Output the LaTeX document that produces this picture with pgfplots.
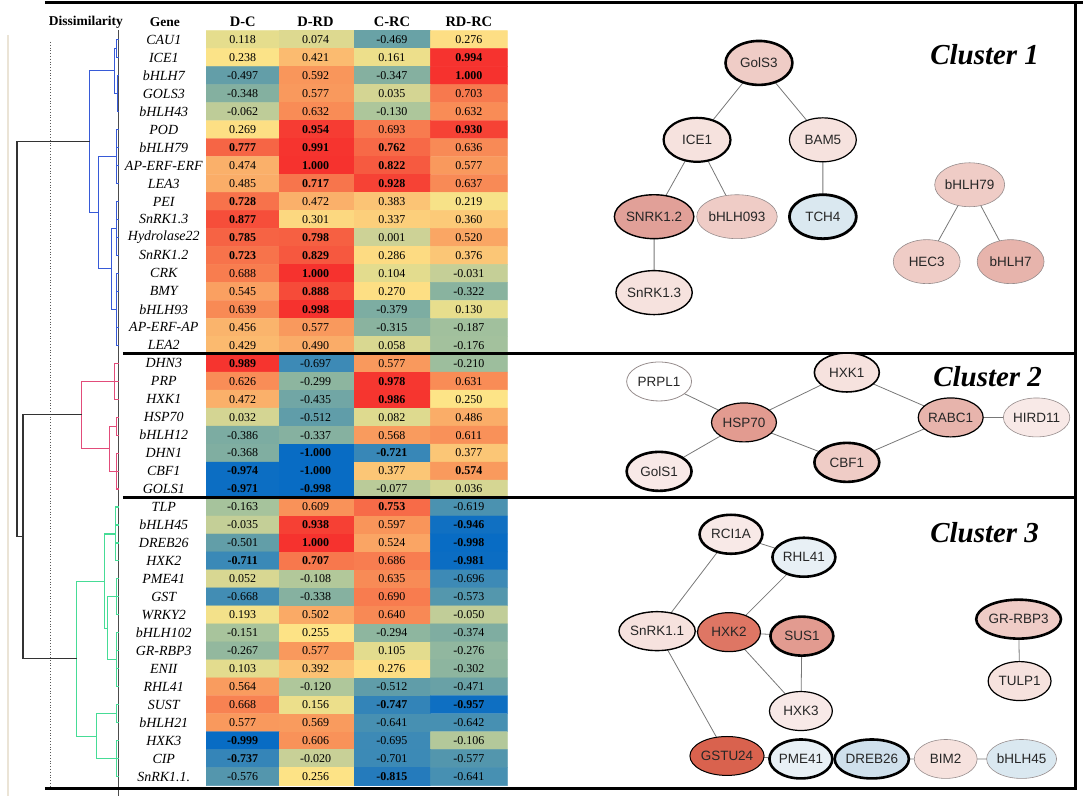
\documentclass[border=0pt]{standalone}
\usepackage{pgfplots}
\pgfplotsset{compat=1.18}
\usepackage{pgfplotstable}
\usepackage{fontspec}
\setmainfont{Liberation Serif}
\newfontfamily\netfont{Liberation Sans}
\usetikzlibrary{shapes.geometric}

\definecolor{dblue}{RGB}{55,90,215}
\definecolor{dpink}{RGB}{226,76,122}
\definecolor{dgreen}{RGB}{70,220,150}
\definecolor{edgegray}{RGB}{120,120,120}
\definecolor{bgray}{RGB}{150,140,140}
\definecolor{pkA}{RGB}{246,226,222}
\definecolor{pkB}{RGB}{239,204,198}
\definecolor{pkC}{RGB}{225,160,152}
\definecolor{pkD}{RGB}{231,180,172}
\definecolor{pkE}{RGB}{226,155,144}
\definecolor{pkF}{RGB}{222,118,100}
\definecolor{pkG}{RGB}{217,98,78}
\definecolor{pkH}{RGB}{248,233,231}
\definecolor{blA}{RGB}{218,232,240}
\definecolor{blB}{RGB}{232,240,245}
\definecolor{blC}{RGB}{207,224,236}
\definecolor{beige}{RGB}{235,228,214}

% heatmap: x (pixel centre), r (row), v (value), b (bold)
\pgfplotstableread[row sep=\\]{
x r v b\\
243 0 0.118 0\\ 316 0 0.074 0\\ 392.5 0 -0.469 0\\ 469.5 0 0.276 0\\
243 1 0.238 0\\ 316 1 0.421 0\\ 392.5 1 0.161 0\\ 469.5 1 0.994 1\\
243 2 -0.497 0\\ 316 2 0.592 0\\ 392.5 2 -0.347 0\\ 469.5 2 1.000 1\\
243 3 -0.348 0\\ 316 3 0.577 0\\ 392.5 3 0.035 0\\ 469.5 3 0.703 0\\
243 4 -0.062 0\\ 316 4 0.632 0\\ 392.5 4 -0.130 0\\ 469.5 4 0.632 0\\
243 5 0.269 0\\ 316 5 0.954 1\\ 392.5 5 0.693 0\\ 469.5 5 0.930 1\\
243 6 0.777 1\\ 316 6 0.991 1\\ 392.5 6 0.762 1\\ 469.5 6 0.636 0\\
243 7 0.474 0\\ 316 7 1.000 1\\ 392.5 7 0.822 1\\ 469.5 7 0.577 0\\
243 8 0.485 0\\ 316 8 0.717 1\\ 392.5 8 0.928 1\\ 469.5 8 0.637 0\\
243 9 0.728 1\\ 316 9 0.472 0\\ 392.5 9 0.383 0\\ 469.5 9 0.219 0\\
243 10 0.877 1\\ 316 10 0.301 0\\ 392.5 10 0.337 0\\ 469.5 10 0.360 0\\
243 11 0.785 1\\ 316 11 0.798 1\\ 392.5 11 0.001 0\\ 469.5 11 0.520 0\\
243 12 0.723 1\\ 316 12 0.829 1\\ 392.5 12 0.286 0\\ 469.5 12 0.376 0\\
243 13 0.688 0\\ 316 13 1.000 1\\ 392.5 13 0.104 0\\ 469.5 13 -0.031 0\\
243 14 0.545 0\\ 316 14 0.888 1\\ 392.5 14 0.270 0\\ 469.5 14 -0.322 0\\
243 15 0.639 0\\ 316 15 0.998 1\\ 392.5 15 -0.379 0\\ 469.5 15 0.130 0\\
243 16 0.456 0\\ 316 16 0.577 0\\ 392.5 16 -0.315 0\\ 469.5 16 -0.187 0\\
243 17 0.429 0\\ 316 17 0.490 0\\ 392.5 17 0.058 0\\ 469.5 17 -0.176 0\\
243 18 0.989 1\\ 316 18 -0.697 0\\ 392.5 18 0.577 0\\ 469.5 18 -0.210 0\\
243 19 0.626 0\\ 316 19 -0.299 0\\ 392.5 19 0.978 1\\ 469.5 19 0.631 0\\
243 20 0.472 0\\ 316 20 -0.435 0\\ 392.5 20 0.986 1\\ 469.5 20 0.250 0\\
243 21 0.032 0\\ 316 21 -0.512 0\\ 392.5 21 0.082 0\\ 469.5 21 0.486 0\\
243 22 -0.386 0\\ 316 22 -0.337 0\\ 392.5 22 0.568 0\\ 469.5 22 0.611 0\\
243 23 -0.368 0\\ 316 23 -1.000 1\\ 392.5 23 -0.721 1\\ 469.5 23 0.377 0\\
243 24 -0.974 1\\ 316 24 -1.000 1\\ 392.5 24 0.377 0\\ 469.5 24 0.574 1\\
243 25 -0.971 1\\ 316 25 -0.998 1\\ 392.5 25 -0.077 0\\ 469.5 25 0.036 0\\
243 26 -0.163 0\\ 316 26 0.609 0\\ 392.5 26 0.753 1\\ 469.5 26 -0.619 0\\
243 27 -0.035 0\\ 316 27 0.938 1\\ 392.5 27 0.597 0\\ 469.5 27 -0.946 1\\
243 28 -0.501 0\\ 316 28 1.000 1\\ 392.5 28 0.524 0\\ 469.5 28 -0.998 1\\
243 29 -0.711 1\\ 316 29 0.707 1\\ 392.5 29 0.686 0\\ 469.5 29 -0.981 1\\
243 30 0.052 0\\ 316 30 -0.108 0\\ 392.5 30 0.635 0\\ 469.5 30 -0.696 0\\
243 31 -0.668 0\\ 316 31 -0.338 0\\ 392.5 31 0.690 0\\ 469.5 31 -0.573 0\\
243 32 0.193 0\\ 316 32 0.502 0\\ 392.5 32 0.640 0\\ 469.5 32 -0.050 0\\
243 33 -0.151 0\\ 316 33 0.255 0\\ 392.5 33 -0.294 0\\ 469.5 33 -0.374 0\\
243 34 -0.267 0\\ 316 34 0.577 0\\ 392.5 34 0.105 0\\ 469.5 34 -0.276 0\\
243 35 0.103 0\\ 316 35 0.392 0\\ 392.5 35 0.276 0\\ 469.5 35 -0.302 0\\
243 36 0.564 0\\ 316 36 -0.120 0\\ 392.5 36 -0.512 0\\ 469.5 36 -0.471 0\\
243 37 0.668 0\\ 316 37 0.156 0\\ 392.5 37 -0.747 1\\ 469.5 37 -0.957 1\\
243 38 0.577 0\\ 316 38 0.569 0\\ 392.5 38 -0.641 0\\ 469.5 38 -0.642 0\\
243 39 -0.999 1\\ 316 39 0.606 0\\ 392.5 39 -0.695 0\\ 469.5 39 -0.106 0\\
243 40 -0.737 1\\ 316 40 -0.020 0\\ 392.5 40 -0.701 0\\ 469.5 40 -0.577 0\\
243 41 -0.576 0\\ 316 41 0.256 0\\ 392.5 41 -0.815 1\\ 469.5 41 -0.641 0\\
}\heat

\pgfplotstableread[row sep=\\]{
r name\\
0 CAU1\\ 1 ICE1\\ 2 bHLH7\\ 3 GOLS3\\ 4 bHLH43\\ 5 POD\\ 6 bHLH79\\ 7 AP-ERF-ERF\\
8 LEA3\\ 9 PEI\\ 10 SnRK1.3\\ 11 Hydrolase22\\ 12 SnRK1.2\\ 13 CRK\\ 14 BMY\\
15 bHLH93\\ 16 AP-ERF-AP\\ 17 LEA2\\ 18 DHN3\\ 19 PRP\\ 20 HXK1\\ 21 HSP70\\
22 bHLH12\\ 23 DHN1\\ 24 CBF1\\ 25 GOLS1\\ 26 TLP\\ 27 bHLH45\\ 28 DREB26\\
29 HXK2\\ 30 PME41\\ 31 GST\\ 32 WRKY2\\ 33 bHLH102\\ 34 GR-RBP3\\ 35 ENII\\
36 RHL41\\ 37 SUST\\ 38 bHLH21\\ 39 HXK3\\ 40 CIP\\ 41 SnRK1.1.\\
}\genes

% network node: x, y, label, fill, border, border width, width, height
\newcommand\netnode[8]{%
  \addplot[draw=none, point meta=explicit symbolic, nodes near coords,
    nodes near coords align={center},
    every node near coord/.append style={ellipse, draw=#5, fill=#4, line width=#6pt,
      minimum width=#7pt, minimum height=#8pt, inner sep=0pt, text=black!85,
      font=\netfont\fontsize{13.5}{14}\selectfont}]
    coordinates {(#1,#2) [#3]};}

\begin{document}
\begin{tikzpicture}
\begin{axis}[
  scale only axis, width=1084pt, height=797pt,
  xmin=0, xmax=1084, ymin=0, ymax=797, y dir=reverse,
  hide axis, clip=false,
  colormap={heat}{rgb255(0cm)=(8,108,196) rgb255(1.5cm)=(30,118,190) rgb255(3cm)=(60,138,182) rgb255(5cm)=(98,158,168) rgb255(6.5cm)=(132,176,160) rgb255(8.5cm)=(168,196,156) rgb255(10cm)=(205,210,150) rgb255(11cm)=(226,220,142) rgb255(12.5cm)=(253,228,135) rgb255(14cm)=(251,192,115) rgb255(16cm)=(249,148,90) rgb255(18cm)=(246,95,66) rgb255(20cm)=(246,50,46)},
  point meta min=-1, point meta max=1,
]
\path (axis cs:0,0) rectangle (axis cs:1084,797);

% heatmap
\addplot[matrix plot*, mesh/cols=4, point meta=explicit]
  table[x=x, y expr={39.7+18*\thisrow{r}}, meta=v] {\heat};
\addplot[draw=none, point meta=explicit symbolic,
  restrict expr to domain={\thisrow{b}}{-0.5:0.5},
  nodes near coords, nodes near coords align={center},
  every node near coord/.append style={font=\fontsize{12}{12}\selectfont, inner sep=0pt, text=black}]
  table[x=x, y expr={39.7+18*\thisrow{r}}, meta=v] {\heat};
\addplot[draw=none, point meta=explicit symbolic,
  restrict expr to domain={\thisrow{b}}{0.5:1.5},
  nodes near coords, nodes near coords align={center},
  every node near coord/.append style={font=\bfseries\fontsize{12}{12}\selectfont, inner sep=0pt, text=black}]
  table[x=x, y expr={39.7+18*\thisrow{r}}, meta=v] {\heat};

% gene names
\addplot[draw=none, point meta=explicit symbolic, nodes near coords, nodes near coords align={center},
  every node near coord/.append style={font=\itshape\fontsize{14}{14}\selectfont, inner sep=0pt, text=black}]
  table[x expr=164, y expr={39.7+18*\thisrow{r}}, meta=name] {\genes};

% decorations
\draw[beige, line width=1.5pt] (axis cs:8,35) -- (axis cs:8,797);
\draw[black!65, dotted, line width=0.8pt] (axis cs:50,42) -- (axis cs:50,790);
\draw[black!70, line width=0.8pt] (axis cs:119,30) -- (axis cs:119,797);

% dendrogram
\addplot[dblue, line width=1.1pt, unbounded coords=jump] coordinates {
 (115,71)(90,71)(90,213)(99,213) (nan,nan)
 (117,48.7)(115,48.7)(115,93.7)(118,93.7) (nan,nan)
 (119,39.7)(117,39.7)(117,57.7)(119,57.7) (nan,nan)
 (119,75.7)(118,75.7)(118,111.7)(119,111.7) (nan,nan)
 (117,156.7)(99,156.7)(99,269.2)(112,269.2) (nan,nan)
 (119,129.7)(117,129.7)(117,183.7)(119,183.7) (nan,nan)
 (117,228.7)(112,228.7)(112,309.7)(117,309.7) (nan,nan)
 (119,201.7)(117,201.7)(117,255.7)(119,255.7) (nan,nan)
 (119,273.7)(117,273.7)(117,345.7)(119,345.7) (nan,nan)
 (117,147.7)(119,147.7) (nan,nan) (117,165.7)(119,165.7) (nan,nan)
 (117,219.7)(119,219.7) (nan,nan) (117,237.7)(119,237.7) (nan,nan)
 (117,291.7)(119,291.7) (nan,nan) (117,327.7)(119,327.7)
};
\addplot[dpink, line width=1.1pt, unbounded coords=jump] coordinates {
 (115,381.7)(82,381.7)(82,449.2)(110,449.2) (nan,nan)
 (119,363.7)(115,363.7)(115,399.7)(119,399.7) (nan,nan)
 (115,381.7)(119,381.7) (nan,nan)
 (117,426.7)(110,426.7)(110,471.7)(117,471.7) (nan,nan)
 (119,417.7)(117,417.7)(117,435.7)(119,435.7) (nan,nan)
 (119,453.7)(117,453.7)(117,489.7)(119,489.7) (nan,nan)
 (117,471.7)(119,471.7)
};
\addplot[dgreen, line width=1.1pt, unbounded coords=jump] coordinates {
 (105,582)(77,582)(77,737.2)(97,737.2) (nan,nan)
 (116,534.7)(105,534.7)(105,629.2)(108,629.2) (nan,nan)
 (119,507.7)(116,507.7)(116,561.7)(119,561.7) (nan,nan)
 (116,525.7)(119,525.7) (nan,nan) (116,543.7)(119,543.7) (nan,nan)
 (117,597.7)(108,597.7)(108,660.7)(117,660.7) (nan,nan)
 (119,579.7)(117,579.7)(117,615.7)(119,615.7) (nan,nan)
 (117,597.7)(119,597.7) (nan,nan)
 (119,633.7)(117,633.7)(117,687.7)(119,687.7) (nan,nan)
 (117,651.7)(119,651.7) (nan,nan) (117,669.7)(119,669.7) (nan,nan)
 (117,714.7)(97,714.7)(97,759.7)(117,759.7) (nan,nan)
 (119,705.7)(117,705.7)(117,723.7)(119,723.7) (nan,nan)
 (119,741.7)(117,741.7)(117,777.7)(119,777.7) (nan,nan)
 (117,759.7)(119,759.7)
};
\addplot[black!80, line width=1.1pt, unbounded coords=jump] coordinates {
 (90,142)(17,142)(17,537.5)(23,537.5) (nan,nan)
 (82,415.5)(23,415.5)(23,659.6)(77,659.6)
};

% frame and separators
\draw[black, line width=3pt] (axis cs:45,3) -- (axis cs:1084,3);
\draw[black, line width=2.5pt] (axis cs:1077,3) -- (axis cs:1077,790);
\draw[black, line width=3pt] (axis cs:45,790) -- (axis cs:1078,790);
\draw[black, line width=3pt] (axis cs:123,354) -- (axis cs:1075,354);
\draw[black, line width=3pt] (axis cs:123,498) -- (axis cs:1075,498);

% headers
\node[font=\bfseries\fontsize{13.5}{14}\selectfont] at (axis cs:86,22) {Dissimilarity};
\node[font=\bfseries\fontsize{13.5}{14}\selectfont] at (axis cs:165,22) {Gene};
\node[font=\bfseries\fontsize{14.5}{15}\selectfont] at (axis cs:243,22) {D-C};
\node[font=\bfseries\fontsize{14.5}{15}\selectfont] at (axis cs:316,22) {D-RD};
\node[font=\bfseries\fontsize{14.5}{15}\selectfont] at (axis cs:392.5,22) {C-RC};
\node[font=\bfseries\fontsize{14.5}{15}\selectfont] at (axis cs:469.5,22) {RD-RC};

% networks: edges
\addplot[edgegray, line width=0.8pt, unbounded coords=jump] coordinates {
 (760,63)(698,140) (nan,nan) (760,63)(824,140) (nan,nan) (698,140)(655,217) (nan,nan)
 (698,140)(738,217) (nan,nan) (824,140)(824,217) (nan,nan) (655,217)(655,293) (nan,nan)
 (971,185)(928,262) (nan,nan) (971,185)(1012,262)
};
\addplot[edgegray, line width=0.8pt, unbounded coords=jump] coordinates {
 (660,382)(745,423) (nan,nan) (660,472)(745,423) (nan,nan) (745,423)(848,373) (nan,nan)
 (745,423)(848,463) (nan,nan) (848,373)(952,418) (nan,nan) (848,463)(952,418) (nan,nan)
 (952,418)(1038,418)
};
\addplot[edgegray, line width=0.8pt, unbounded coords=jump] coordinates {
 (732,535)(805,558) (nan,nan) (732,535)(658,632) (nan,nan) (805,558)(730,633) (nan,nan)
 (658,632)(730,633) (nan,nan) (730,633)(803,637) (nan,nan) (730,633)(802,712) (nan,nan)
 (803,637)(802,712) (nan,nan) (658,632)(728,757) (nan,nan) (728,757)(802,760) (nan,nan)
 (802,760)(873,760) (nan,nan) (873,760)(947,760) (nan,nan) (947,760)(1023,760) (nan,nan)
 (1020,620)(1021,682)
};

% networks: nodes (cluster 1)
\netnode{760}{63}{GolS3}{pkB}{black}{2.6}{67}{44}
\netnode{698}{140}{ICE1}{pkA}{black}{2.2}{67}{44}
\netnode{824}{140}{BAM5}{pkA}{black}{1.2}{67}{44}
\netnode{655}{217}{SNRK1.2}{pkC}{black}{1.4}{67}{44}
\netnode{738}{217}{bHLH093}{pkB}{bgray}{0.6}{67}{44}
\netnode{824}{217}{TCH4}{blA}{black}{2.8}{67}{44}
\netnode{655}{293}{SnRK1.3}{pkA}{black}{1.4}{67}{44}
\netnode{971}{185}{bHLH79}{pkB}{bgray}{0.6}{67}{44}
\netnode{928}{262}{HEC3}{pkB}{bgray}{0.6}{67}{44}
\netnode{1012}{262}{bHLH7}{pkD}{bgray}{0.6}{67}{44}
% cluster 2
\netnode{660}{382}{PRPL1}{white}{bgray}{0.8}{65}{39}
\netnode{745}{423}{HSP70}{pkE}{black}{1.2}{65}{39}
\netnode{660}{472}{GolS1}{pkH}{black}{2.6}{65}{39}
\netnode{848}{373}{HXK1}{pkA}{black}{1.6}{65}{39}
\netnode{848}{463}{CBF1}{pkB}{black}{2.6}{65}{39}
\netnode{952}{418}{RABC1}{pkD}{black}{1.2}{65}{39}
\netnode{1038}{418}{HIRD11}{pkH}{bgray}{0.6}{65}{39}
% cluster 3
\netnode{732}{535}{RCI1A}{pkH}{black}{2.6}{63}{39}
\netnode{805}{558}{RHL41}{blB}{black}{2.6}{63}{39}
\netnode{658}{632}{SnRK1.1}{pkA}{black}{1.4}{63}{39}
\netnode{730}{633}{HXK2}{pkF}{black}{1.2}{63}{39}
\netnode{803}{637}{SUS1}{pkE}{black}{2.6}{63}{39}
\netnode{802}{712}{HXK3}{pkH}{black}{1.2}{63}{39}
\netnode{1020}{620}{GR-RBP3}{pkB}{black}{2.6}{63}{39}
\netnode{1021}{682}{TULP1}{pkA}{black}{1.2}{63}{39}
\netnode{728}{757}{GSTU24}{pkG}{black}{1.0}{63}{39}
\netnode{802}{760}{PME41}{blB}{black}{2.6}{63}{39}
\netnode{873}{760}{DREB26}{blC}{black}{2.6}{63}{39}
\netnode{947}{760}{BIM2}{pkA}{bgray}{0.6}{63}{39}
\netnode{1023}{760}{bHLH45}{blA}{bgray}{0.6}{63}{39}

% cluster titles
\node[font=\bfseries\itshape\fontsize{29}{30}\selectfont] at (axis cs:986,55) {Cluster 1};
\node[font=\bfseries\itshape\fontsize{29}{30}\selectfont] at (axis cs:989,377) {Cluster 2};
\node[font=\bfseries\itshape\fontsize{29}{30}\selectfont] at (axis cs:986,533) {Cluster 3};
\end{axis}
\end{tikzpicture}
\end{document}
